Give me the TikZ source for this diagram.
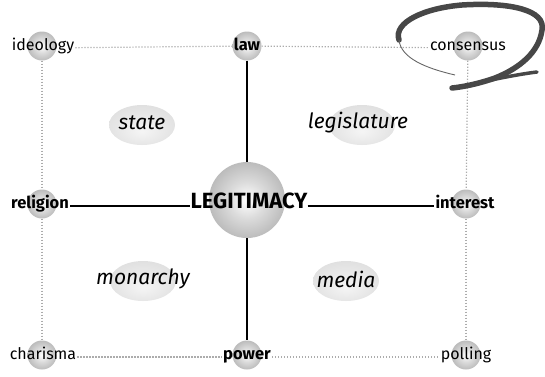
\documentclass[tikz,border=0pt]{standalone}
\usepackage{fontspec}
\setmainfont{Fira Sans}
\usetikzlibrary{shapes.geometric}
\pgfdeclareradialshading{sphere}{\pgfpoint{0bp}{0bp}}{color(0bp)=(white); color(12bp)=(gray!28); color(30bp)=(gray!62); color(50bp)=(gray!58)}
\pgfdeclareradialshading{cloud}{\pgfpoint{0bp}{-8bp}}{color(0bp)=(gray!8); color(30bp)=(gray!25); color(50bp)=(gray!36)}

\begin{document}
\begin{tikzpicture}[x=1pt,y=-1pt,
    ball/.style={circle, inner sep=0pt, minimum size=29pt, shading=sphere},
    word/.style={inner sep=1pt, text height=0.72em, text depth=0.22em, font=\fontsize{16}{18}\selectfont},
    key/.style={word, font=\fontsize{16.5}{18}\selectfont\bfseries},
    blob/.style={ellipse, inner sep=0pt, minimum width=66pt, minimum height=40pt, shading=cloud},
    area/.style={inner sep=0pt, font=\fontsize{21}{24}\selectfont\itshape},
    dots/.style={gray!65, line width=1.2pt, dash pattern=on 1.2pt off 1.8pt},
    link/.style={black, line width=1.3pt}]
    \useasboundingbox (0,0) rectangle (545,376);
    % spheres
    \node[ball] (ideologyb) at (42,46) {};
    \node[ball] (lawb) at (247,46) {};
    \node[ball] (consensusb) at (468,46) {};
    \node[ball] (religionb) at (42,204) {};
    \node[ball, minimum size=76pt] (legitb) at (247,200) {};
    \node[ball] (interestb) at (466,204) {};
    \node[ball] (charismab) at (42,355) {};
    \node[ball] (powerb) at (247,355) {};
    \node[ball] (pollingb) at (466,355) {};
    % areas
    \node[blob] (stateb) at (142,125) {};
    \node[blob] (legislatureb) at (362,125) {};
    \node[blob] (monarchyb) at (143,281) {};
    \node[blob] (mediab) at (346,281) {};
    \node[area] (state) at (142,123) {state};
    \node[area] (legislature) at (358,123) {legislature};
    \node[area] (monarchy) at (143,279) {monarchy};
    \node[area] (media) at (346,279) {media};
    % labels
    \node[word] (ideology) at (43,48) {ideology};
    \node[key] (law) at (247,48) {law};
    \node[word] (consensus) at (468,48) {consensus};
    \node[key] (religion) at (40,206) {religion};
    \node[key, font=\fontsize{22}{24}\selectfont\bfseries, inner sep=0pt] (legit) at (249,206) {LEGITIMACY};
    \node[key] (interest) at (465,206) {interest};
    \node[word] (charisma) at (43,357) {charisma};
    \node[key] (power) at (247,357) {power};
    \node[word] (polling) at (466,357) {polling};
    % dotted frame
    \draw[dots] (ideology) -- (lawb);
    \draw[dots] (lawb) -- (consensus);
    \draw[dots] (ideologyb) -- (religionb);
    \draw[dots] (religionb) -- (charismab);
    \draw[dots] (consensusb) -- (interestb);
    \draw[dots] (interestb) -- (pollingb);
    \draw[dots] (charisma) -- (power);
    \draw[dots] (power) -- (polling);
    % cross
    \draw[link] (lawb) -- (legitb);
    \draw[link] (legitb) -- (powerb);
    \draw[link] (religion) -- (legit);
    \draw[link] (legit) -- (interest);
    % loop round consensus
    \draw[black!72, line width=5.5pt, line cap=round] (399,40) .. controls (393,22) and (425,8) .. (462,5) .. controls (510,2) and (546,10) .. (542,30) .. controls (539,52) and (520,68) .. (495,78) .. controls (478,84) and (462,87) .. (452,88);
    \draw[black!72, line width=3.5pt, line cap=round] (472,84) .. controls (495,79) and (520,74) .. (537,72);
    \draw[black!60, line width=0.9pt] (399,40) .. controls (401,58) and (425,68) .. (455,75);
\end{tikzpicture}
\end{document}
